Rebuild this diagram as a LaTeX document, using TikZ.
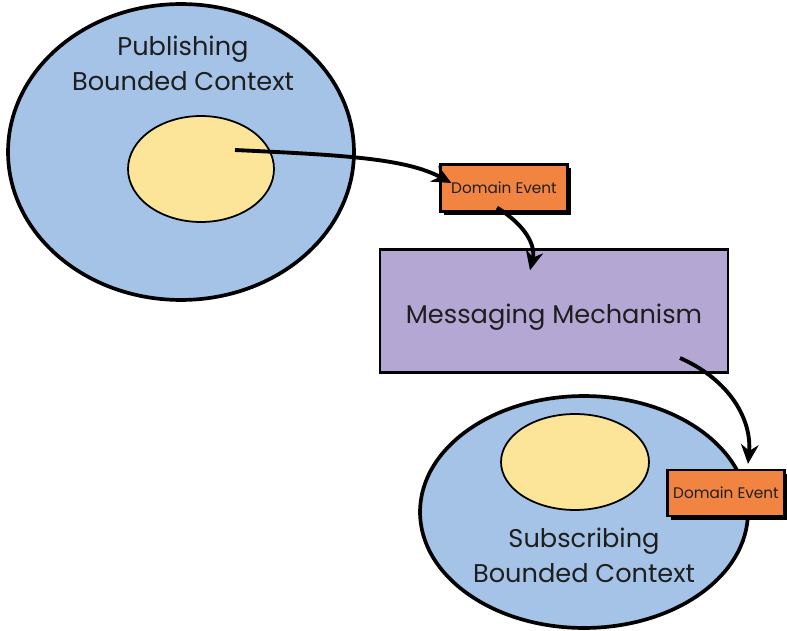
\documentclass[tikz,border=0pt]{standalone}
\usepackage{fontspec}
\setmainfont{Poppins}
\usetikzlibrary{shapes.geometric,shadows,arrows.meta}

\definecolor{ctxblue}{RGB}{164,195,230}
\definecolor{coreyellow}{RGB}{252,228,152}
\definecolor{evtorange}{RGB}{242,132,66}
\definecolor{msgpurple}{RGB}{180,167,212}
\definecolor{ink}{RGB}{30,30,30}

\begin{document}
\begin{tikzpicture}[x=0.02cm,y=-0.02cm,
  every node/.style={text=ink},
  context/.style={ellipse,draw=black,line width=2.1pt,fill=ctxblue},
  core/.style={ellipse,draw=black,line width=1pt,fill=coreyellow},
  ctxtext/.style={font=\fontsize{14.6}{20}\selectfont,align=center},
  event/.style={draw=black,line width=1.3pt,fill=evtorange,font=\fontsize{8.7}{10}\selectfont,
    drop shadow={shadow xshift=2pt,shadow yshift=-2pt,opacity=1,fill=black}},
  flow/.style={-{Stealth[length=11pt,width=10pt]},line width=2.2pt,black}]
\useasboundingbox (0,0) rectangle (787,631);

% publishing side
\node[context,minimum width=6.92cm,minimum height=5.92cm] (pubctx) at (181,152) {};
\node[core,minimum width=2.92cm,minimum height=2.12cm] (pubcore) at (201,169) {};
\node[ctxtext] (publabel) at (183,63) {Publishing\\Bounded Context};
\node[event,minimum width=2.54cm,minimum height=0.94cm] (pubevent) at (504,188) {Domain Event};

% broker in the middle
\node[draw=black,line width=1.4pt,fill=msgpurple,minimum width=6.96cm,minimum height=2.46cm,
  font=\fontsize{14.6}{17}\selectfont] (broker) at (554,311) {\raisebox{-7pt}[0pt][0pt]{Messaging Mechanism}};

% subscribing side
\node[context,minimum width=6.56cm,minimum height=4.64cm] (subctx) at (584,512) {};
\node[core,minimum width=2.96cm,minimum height=1.92cm] (subcore) at (575,462) {};
\node[ctxtext] (sublabel) at (584,555) {Subscribing\\Bounded Context};
\node[event,minimum width=2.28cm,minimum height=0.92cm] (subevent) at (726,493) {Domain Event};

\coordinate (pubsrc) at ([shift={(34,-19)}]pubcore.center);
\draw[flow] (pubsrc) .. controls (340,155) and (405,158) .. ([shift={(12,-5)}]pubevent.west);
\draw[flow] ([shift={(-7,-5)}]pubevent.south) .. controls (525,225) and (536,245) .. ([shift={(-24,22)}]broker.north);
\draw[flow] ([shift={(126,47)}]broker.center) .. controls (730,380) and (752,420) .. ([shift={(22,-5)}]subevent.north);
\end{tikzpicture}
\end{document}
